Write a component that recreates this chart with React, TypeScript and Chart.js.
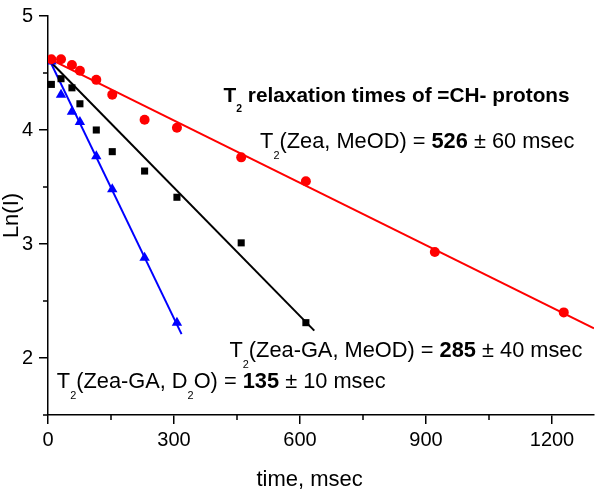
import React, { useEffect, useRef } from 'react';
import { Chart, registerables } from 'chart.js';

Chart.register(...registerables);

// ---- data ----
const zeaTimes = [8, 31, 57, 76, 115, 153, 230, 307, 460, 614, 921, 1228];
const zeaLnI = [4.62, 4.62, 4.57, 4.52, 4.44, 4.31, 4.09, 4.02, 3.76, 3.55, 2.93, 2.4];

const gaMeodTimes = [8, 31, 57, 76, 115, 153, 230, 307, 460, 614];
const gaMeodLnI = [4.4, 4.45, 4.37, 4.23, 4.0, 3.81, 3.64, 3.41, 3.01, 2.31];

const gaD2oTimes = [8, 31, 57, 76, 115, 153, 230, 307];
const gaD2oLnI = [4.6, 4.31, 4.16, 4.07, 3.77, 3.48, 2.88, 2.31];

// fitted lines (end points)
const zeaFitTimes = [0, 1300];
const zeaFitLnI = [4.63, 2.26];
const gaMeodFitTimes = [0, 634];
const gaMeodFitLnI = [4.62, 2.24];
const gaD2oFitTimes = [0, 318];
const gaD2oFitLnI = [4.64, 2.21];

// axes
const xMin = 0;
const xMax = 1300;
const xStep = 150;
const xLabelEvery = 300;
const yMin = 1.5;
const yMax = 5;
const yStep = 0.5;

const xTitle = 'time, msec';
const yTitle = 'Ln(I)';

type Part = { text: string; bold?: boolean; sub?: boolean };

const annTitle: Part[] = [
  { text: 'T', bold: true },
  { text: '2', bold: true, sub: true },
  { text: ' relaxation times of =CH- protons', bold: true },
];
const annZea: Part[] = [
  { text: 'T' },
  { text: '2', sub: true },
  { text: '(Zea, MeOD) = ' },
  { text: '526', bold: true },
  { text: ' \u00B1 60 msec' },
];
const annGaMeod: Part[] = [
  { text: 'T' },
  { text: '2', sub: true },
  { text: '(Zea-GA, MeOD) = ' },
  { text: '285', bold: true },
  { text: ' \u00B1 40 msec' },
];
const annGaD2o: Part[] = [
  { text: 'T' },
  { text: '2', sub: true },
  { text: '(Zea-GA, D' },
  { text: '2', sub: true },
  { text: 'O) = ' },
  { text: '135', bold: true },
  { text: ' \u00B1 10 msec' },
];

// anchor of each annotation, in data coordinates (left / baseline)
const annotations = [
  { t: 418, ln: 4.25, size: 20.8, parts: annTitle },
  { t: 505, ln: 3.84, size: 21.8, parts: annZea },
  { t: 432, ln: 2.01, size: 21.8, parts: annGaMeod },
  { t: 21, ln: 1.74, size: 21.8, parts: annGaD2o },
];
const xTitleCenterT = 623;

const FONT = '"Liberation Sans", Arial, Helvetica, sans-serif';

const toXY = (xs: number[], ys: number[]) => xs.map((x, i) => ({ x, y: ys[i] }));

function drawRich(ctx: CanvasRenderingContext2D, x: number, y: number, parts: Part[], size: number) {
  let cx = x;
  for (const p of parts) {
    const fs = p.sub ? size * 0.5 : size;
    ctx.font = `${p.bold ? 'bold ' : ''}${fs}px ${FONT}`;
    ctx.fillText(p.text, cx, p.sub ? y + size * 0.5 : y);
    cx += ctx.measureText(p.text).width;
  }
}

const decorPlugin = {
  id: 'decor',
  afterDraw(chart: any) {
    const { ctx, chartArea, scales } = chart;
    const xs = scales.x;
    const ys = scales.y;
    ctx.save();
    ctx.strokeStyle = '#000';
    ctx.lineWidth = 1.5;
    // minor ticks
    ctx.beginPath();
    for (const tk of ys.ticks) {
      if (!Number.isInteger(tk.value)) {
        const py = ys.getPixelForValue(tk.value);
        ctx.moveTo(chartArea.left - 5, py);
        ctx.lineTo(chartArea.left, py);
      }
    }
    for (const tk of xs.ticks) {
      if (tk.value % xLabelEvery !== 0 && tk.value % xStep === 0) {
        const px = xs.getPixelForValue(tk.value);
        ctx.moveTo(px, chartArea.bottom);
        ctx.lineTo(px, chartArea.bottom + 5);
      }
    }
    ctx.stroke();

    // annotations
    ctx.fillStyle = '#000';
    ctx.textBaseline = 'alphabetic';
    ctx.textAlign = 'left';
    for (const a of annotations) {
      drawRich(ctx, xs.getPixelForValue(a.t), ys.getPixelForValue(a.ln), a.parts, a.size);
    }
    // x axis title
    ctx.font = `22px ${FONT}`;
    ctx.textAlign = 'center';
    ctx.fillText(xTitle, xs.getPixelForValue(xTitleCenterT), chart.height - 5);
    ctx.restore();
  },
};

export default function App() {
  const ref = useRef<HTMLCanvasElement | null>(null);

  useEffect(() => {
    if (!ref.current) return;
    const chart = new Chart(ref.current, {
      type: 'scatter',
      data: {
        datasets: [
          {
            label: 'Zea, MeOD',
            data: toXY(zeaTimes, zeaLnI),
            pointStyle: 'circle',
            pointRadius: 5,
            backgroundColor: '#ff0000',
            borderColor: '#ff0000',
            borderWidth: 0,
          },
          {
            label: 'Zea-GA, MeOD',
            data: toXY(gaMeodTimes, gaMeodLnI),
            pointStyle: 'rect',
            pointRadius: 5,
            backgroundColor: '#000000',
            borderColor: '#000000',
            borderWidth: 0,
          },
          {
            label: 'Zea-GA, D2O',
            data: toXY(gaD2oTimes, gaD2oLnI),
            pointStyle: 'triangle',
            pointRadius: 6,
            backgroundColor: '#0000ff',
            borderColor: '#0000ff',
            borderWidth: 0,
          },
          {
            label: 'fit Zea, MeOD',
            data: toXY(zeaFitTimes, zeaFitLnI),
            showLine: true,
            pointRadius: 0,
            borderColor: '#ff0000',
            borderWidth: 2,
          },
          {
            label: 'fit Zea-GA, MeOD',
            data: toXY(gaMeodFitTimes, gaMeodFitLnI),
            showLine: true,
            pointRadius: 0,
            borderColor: '#000000',
            borderWidth: 2,
          },
          {
            label: 'fit Zea-GA, D2O',
            data: toXY(gaD2oFitTimes, gaD2oFitLnI),
            showLine: true,
            pointRadius: 0,
            borderColor: '#0000ff',
            borderWidth: 2,
          },
        ],
      },
      options: {
        animation: false,
        responsive: true,
        maintainAspectRatio: false,
        layout: { padding: { top: 10, right: 1, left: 0, bottom: 0 } },
        plugins: {
          legend: { display: false },
          tooltip: { enabled: false },
        },
        scales: {
          x: {
            type: 'linear',
            min: xMin,
            max: xMax,
            afterFit: (s: any) => {
              s.height = 76;
            },
            border: { display: true, color: '#000', width: 1.5 },
            grid: {
              display: true,
              drawOnChartArea: false,
              drawTicks: true,
              tickLength: 9,
              lineWidth: 1.5,
              tickWidth: 1.5,
              tickColor: (c: any) => (c.tick && c.tick.value % xLabelEvery === 0 ? '#000' : 'rgba(0,0,0,0)'),
            },
            ticks: {
              stepSize: xStep,
              includeBounds: false,
              autoSkip: false,
              maxRotation: 0,
              padding: 4,
              color: '#000',
              font: { family: FONT, size: 20 },
              callback: (v: any) => (Number(v) % xLabelEvery === 0 ? String(v) : ''),
            },
          },
          y: {
            type: 'linear',
            min: yMin,
            max: yMax,
            afterFit: (s: any) => {
              s.width = 48;
            },
            border: { display: true, color: '#000', width: 1.5 },
            grid: {
              display: true,
              drawOnChartArea: false,
              drawTicks: true,
              tickLength: 9,
              lineWidth: 1.5,
              tickWidth: 1.5,
              tickColor: (c: any) => (c.tick && Number.isInteger(c.tick.value) ? '#000' : 'rgba(0,0,0,0)'),
            },
            title: {
              display: true,
              text: yTitle,
              color: '#000',
              padding: 0,
              font: { family: FONT, size: 22, lineHeight: 1.1 },
            },
            ticks: {
              stepSize: yStep,
              autoSkip: false,
              padding: 6,
              color: '#000',
              font: { family: FONT, size: 20, lineHeight: 1 },
              callback: (v: any) => (Number.isInteger(Number(v)) ? String(v) : ''),
            },
          },
        },
      },
      plugins: [decorPlugin],
    } as any);
    return () => chart.destroy();
  }, []);

  return (
    <div style={{ position: 'fixed', left: 0, top: 0, width: 600, height: 491, background: '#fff' }}>
      <canvas ref={ref} style={{ display: 'block' }} />
    </div>
  );
}
